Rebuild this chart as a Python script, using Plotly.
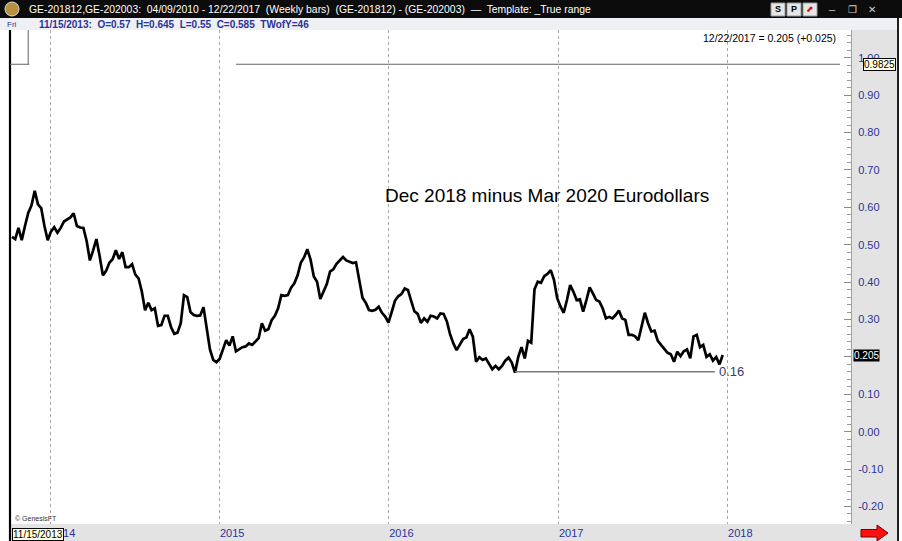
import pandas as pd
import plotly.graph_objects as go

# ---------------- data ----------------
start_date = "2013-10-11"          # first weekly bar (Fridays)
spread = [
    0.521, 0.515, 0.545, 0.512, 0.550, 0.585, 0.605, 0.644, 0.608, 0.598,
    0.550, 0.512, 0.535, 0.547, 0.532, 0.545, 0.562, 0.567, 0.573, 0.584,
    0.550, 0.546, 0.545, 0.510, 0.458, 0.485, 0.515, 0.470, 0.418, 0.430,
    0.452, 0.461, 0.485, 0.462, 0.480, 0.440, 0.440, 0.448, 0.420, 0.410,
    0.375, 0.325, 0.345, 0.325, 0.330, 0.283, 0.285, 0.310, 0.310, 0.280,
    0.262, 0.265, 0.290, 0.365, 0.360, 0.320, 0.312, 0.310, 0.311, 0.333,
    0.270, 0.220, 0.192, 0.186, 0.195, 0.218, 0.245, 0.230, 0.255, 0.215,
    0.220, 0.226, 0.228, 0.236, 0.232, 0.240, 0.250, 0.290, 0.270, 0.274,
    0.298, 0.310, 0.330, 0.365, 0.363, 0.365, 0.385, 0.397, 0.418, 0.452,
    0.466, 0.488, 0.460, 0.415, 0.401, 0.355, 0.375, 0.395, 0.428, 0.434,
    0.449, 0.458, 0.467, 0.458, 0.454, 0.451, 0.453, 0.405, 0.358, 0.345,
    0.325, 0.323, 0.326, 0.334, 0.318, 0.308, 0.292, 0.320, 0.350, 0.362,
    0.368, 0.383, 0.379, 0.350, 0.322, 0.315, 0.291, 0.303, 0.294, 0.310,
    0.308, 0.303, 0.316, 0.315, 0.295, 0.260, 0.236, 0.218, 0.235, 0.248,
    0.252, 0.274, 0.254, 0.187, 0.199, 0.192, 0.196, 0.180, 0.167, 0.176,
    0.167, 0.176, 0.190, 0.198, 0.185, 0.158, 0.200, 0.226, 0.196, 0.243,
    0.238, 0.381, 0.401, 0.398, 0.416, 0.422, 0.432, 0.406, 0.357, 0.335,
    0.318, 0.352, 0.392, 0.374, 0.352, 0.354, 0.321, 0.352, 0.386, 0.370,
    0.352, 0.348, 0.330, 0.303, 0.307, 0.303, 0.312, 0.324, 0.303, 0.299,
    0.259, 0.259, 0.255, 0.245, 0.285, 0.318, 0.290, 0.268, 0.270, 0.243,
    0.232, 0.222, 0.211, 0.207, 0.187, 0.214, 0.202, 0.215, 0.220, 0.196,
    0.255, 0.259, 0.226, 0.232, 0.200, 0.207, 0.190, 0.200, 0.180, 0.205,
]
year_ticks = ["2014-01-01", "2015-01-01", "2016-01-01", "2017-01-01", "2018-01-01"]
year_labels = ["2014", "2015", "2016", "2017", "2018"]
y_ticks = [-0.2, -0.1, 0.0, 0.1, 0.2, 0.3, 0.4, 0.5, 0.6, 0.7, 0.8, 0.9, 1.0]
y_labels = ["-0.20", "-0.10", "0.00", "0.10", "", "0.30", "0.40", "0.50",
            "0.60", "0.70", "0.80", "0.90", "1.00"]   # 0.20 hidden under the last-value badge

cursor_date = "2013-11-15"
cursor_info = "11/15/2013:\u00a0 O=0.57\u00a0 H=0.645\u00a0 L=0.55\u00a0 C=0.585\u00a0 TWofY=46"
hline_level = 0.9825
hline_start, hline_end = "2015-02-06", "2018-09-01"
support_level = 0.16
support_start, support_end = "2016-09-30", "2017-12-05"
chart_title = "Dec 2018 minus Mar 2020 Eurodollars"
header_text = ("GE-201812,GE-202003:\u00a0 04/09/2010 - 12/22/2017\u00a0 (Weekly bars)\u00a0 "
               "(GE-201812) - (GE-202003)\u00a0 \u2014\u00a0 Template: _True range")

dates = pd.date_range(start_date, periods=len(spread), freq="7D")
last_val = spread[-1]
chg = spread[-1] - spread[-2]

# ---------------- layout helpers (pixel -> paper) ----------------
W, H = 902, 541
L, R, T, B = 10, 851, 30, 524


def px(x):
    return (x - L) / (R - L)


def py(y):
    return (B - y) / (B - T)


FONT = "Liberation Sans, Arial, sans-serif"
BLUE = "#2b3398"
PANEL = "#e3e3e3"

fig = go.Figure()
fig.add_trace(go.Scatter(x=dates, y=spread, mode="lines",
                         line=dict(color="black", width=2.7),
                         hoverinfo="skip", showlegend=False))

shapes = []


def rect(x0, y0, x1, y1, fill, line_color=None, lw=0, layer="below"):
    shapes.append(dict(type="rect", xref="paper", yref="paper",
                       x0=px(x0), x1=px(x1), y0=py(y1), y1=py(y0),
                       fillcolor=fill, layer=layer,
                       line=dict(color=line_color or fill, width=lw)))


def pline(x0, y0, x1, y1, color, w=1, layer="above", dash="solid"):
    shapes.append(dict(type="line", xref="paper", yref="paper",
                       x0=px(x0), x1=px(x1), y0=py(y0), y1=py(y1),
                       layer=layer, line=dict(color=color, width=w, dash=dash)))


# panels
rect(R, T, 898, H, PANEL)
rect(L, B, R, H, PANEL)
rect(0, 0, 902, 18, "#0c0c0c")
rect(0, 18, 898, 30, "#eef0f4")
pline(10, 30, 10, H, "black", 2.2)
pline(898, 18, 898, H, "#202020", 2)

# title-bar widgets
shapes.append(dict(type="circle", xref="paper", yref="paper",
                   x0=px(5), x1=px(19), y0=py(16), y1=py(2),
                   fillcolor="#b89040", line=dict(color="#dddddd", width=1), layer="below"))
for bx in (771, 787, 803):
    rect(bx, 3, bx + 14, 16, "#e6e6e6", "#9a9a9a", 1)

# cursor box and drawn lines (data coordinates)
shapes.append(dict(type="line", xref="x", yref="y", x0=cursor_date, x1=cursor_date,
                   y0=hline_level, y1=1.074, line=dict(color="#666", width=1)))
shapes.append(dict(type="line", xref="paper", yref="y", x0=0, x1=px(29.3),
                   y0=hline_level, y1=hline_level, line=dict(color="#666", width=1)))
shapes.append(dict(type="line", xref="x", yref="y", x0=hline_start, x1=hline_end,
                   y0=hline_level, y1=hline_level, line=dict(color="#666", width=1)))
shapes.append(dict(type="line", xref="x", yref="y", x0=support_start, x1=support_end,
                   y0=support_level, y1=support_level, line=dict(color="#7a7a7a", width=1.5)))

# red arrow
pts = [(861, 529.5), (877, 529.5), (877, 525), (888, 533), (877, 541), (877, 537), (861, 537)]
path = "M " + " L ".join(f"{px(a):.5f},{py(b):.5f}" for a, b in pts) + " Z"
shapes.append(dict(type="path", xref="paper", yref="paper", path=path,
                   fillcolor="#ff1010", line=dict(color="#7a0000", width=1), layer="above"))

annotations = []


def text(x, y, s, size=11, color="black", xanchor="left", yanchor="middle", xref="paper",
         yref="paper", **kw):
    annotations.append(dict(x=x, y=y, xref=xref, yref=yref, text=s, showarrow=False,
                            xanchor=xanchor, yanchor=yanchor,
                            font=dict(family=FONT, size=size, color=color), **kw))


text(px(27), py(9.5), header_text, 10.4, "white")
for sx, s in ((778, "<b>S</b>"), (794, "<b>P</b>")):
    text(px(sx), py(9.5), s, 9, "black", xanchor="center")
text(px(810), py(9.5), "\u2b08", 9, "#d01010", xanchor="center")
text(px(832), py(9.5), "\u2013", 11, "#cccccc", xanchor="center")
text(px(852), py(9.5), "\u2750", 10, "#cccccc", xanchor="center")
text(px(872), py(9.5), "\u2715", 10, "#cccccc", xanchor="center")

text(px(5), py(24), "Fri", 8, BLUE)
text(px(37), py(24), "<b>" + cursor_info + "</b>", 10, BLUE)

date_str = dates[-1].strftime("%m/%d/%Y")
text(px(838), py(38), f"{date_str} = {last_val:.3f} ({chg:+.3f})", 10.5, "black", xanchor="right")

text(px(383), py(196), chart_title, 19, "black")
text(support_end, support_level, f"{support_level:.2f}", 13, "#34406e",
     xref="x", yref="y", xshift=2)

text(px(853), last_val, f"{last_val:.3f}", 10, "white", yref="y", bgcolor="black", borderpad=0)
text(px(863), hline_level, f"{hline_level:.4f}", 10, "black", yref="y",
     bgcolor="#ffffe1", bordercolor="black", borderwidth=1, borderpad=0)

text(px(12), py(534), "11/15/2013", 10, "black", bgcolor="#ffffe1",
     bordercolor="black", borderwidth=1, borderpad=0)
text(px(13), py(518), "\u00a9 GenesisFT", 7, "#333333")

fig.update_layout(
    width=W, height=H,
    margin=dict(l=L, r=W - R, t=T, b=H - B, pad=0, autoexpand=False),
    paper_bgcolor="white", plot_bgcolor="white",
    font=dict(family=FONT, size=11, color=BLUE),
    showlegend=False,
    shapes=shapes, annotations=annotations,
    xaxis=dict(type="date", range=["2013-10-06 16:30", "2018-09-24 17:00"],
               tickvals=year_ticks, ticktext=year_labels,
               showgrid=True, griddash="dot", gridcolor="#a8a8a8", gridwidth=1,
               ticks="", showline=False, zeroline=False,
               tickfont=dict(family=FONT, size=11, color=BLUE),
               ticklabelshift=13, ticklabelstandoff=1, fixedrange=True),
    yaxis=dict(side="right", range=[-0.2468, 1.0741],
               tickvals=y_ticks, ticktext=y_labels,
               showgrid=False, zeroline=False,
               showline=True, linecolor="#a0a0a0", linewidth=1,
               ticks="inside", ticklen=7, tickcolor="#8a8a8a", tickwidth=1,
               minor=dict(dtick=0.02, tick0=0, ticks="inside", ticklen=4, tickcolor="#9a9a9a",
                          showgrid=False),
               tickfont=dict(family=FONT, size=11, color=BLUE),
               ticklabelstandoff=4, fixedrange=True),
)

fig.write_html("out.html", config={"displayModeBar": False},
               post_script="document.body.style.margin='0';document.body.style.overflow='hidden';")
